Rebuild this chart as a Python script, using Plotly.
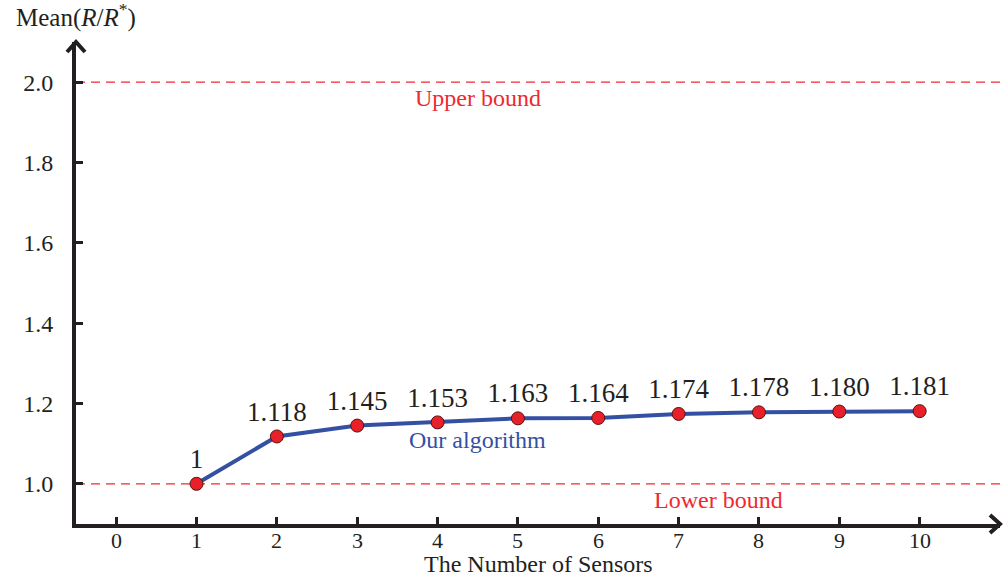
import plotly.graph_objects as go

sensors = [1, 2, 3, 4, 5, 6, 7, 8, 9, 10]
mean_ratio = [1.0, 1.118, 1.145, 1.153, 1.163, 1.164, 1.174, 1.178, 1.180, 1.181]
point_labels = ["1", "1.118", "1.145", "1.153", "1.163", "1.164", "1.174", "1.178", "1.180", "1.181"]
x_ticks = [0, 1, 2, 3, 4, 5, 6, 7, 8, 9, 10]
y_ticks = [1.0, 1.2, 1.4, 1.6, 1.8, 2.0]
upper_bound = 2.0
lower_bound = 1.0

FONT = "Liberation Serif"
AX = "#231f20"
RED = "#ee2a30"
BLUE = "#3350a3"

fig = go.Figure()
fig.add_trace(go.Scatter(
    x=sensors, y=mean_ratio, mode="lines+markers+text",
    text=point_labels, textposition="top center",
    textfont=dict(family=FONT, size=27, color="#231f20"),
    line=dict(color=BLUE, width=4),
    marker=dict(size=13, color="#e8202a", line=dict(color="#5a1010", width=1)),
    showlegend=False, cliponaxis=False,
))

for yb in (upper_bound, lower_bound):
    fig.add_shape(type="line", xref="x", yref="y", x0=-0.5, x1=11, y0=yb, y1=yb,
                  line=dict(color=RED, width=1.2, dash="9px,6px"), layer="below")

fig.add_annotation(x=4.5, y=1.96, text="Upper bound", showarrow=False,
                   font=dict(family=FONT, size=24, color=RED))
fig.add_annotation(x=7.5, y=0.96, text="Lower bound", showarrow=False,
                   font=dict(family=FONT, size=24, color=RED))
fig.add_annotation(x=4.5, y=1.109, text="Our algorithm", showarrow=False,
                   font=dict(family=FONT, size=24, color=BLUE))

# axis arrow heads (paper-referenced so they are not clipped)
fig.add_shape(type="path", xref="paper", yref="paper", xsizemode="pixel", ysizemode="pixel",
              xanchor=1, yanchor=0, path="M -10 -9 L 0 0 L -10 9",
              line=dict(color=AX, width=4))
fig.add_shape(type="path", xref="paper", yref="paper", xsizemode="pixel", ysizemode="pixel",
              xanchor=0, yanchor=1, path="M -9 -10 L 0 0 L 9 -10",
              line=dict(color=AX, width=4))

# x tick labels placed just under the axis
for xv in x_ticks:
    fig.add_annotation(x=xv, xref="x", yref="paper", y=0.0, yshift=-16, yanchor="middle",
                       text=str(xv), showarrow=False,
                       font=dict(family=FONT, size=22, color=AX))

fig.add_annotation(xref="paper", yref="paper", x=0.0, y=1.0, yshift=8, xanchor="center",
                   text="Mean(<i>R</i>/<i>R</i><sup>*</sup>)", showarrow=False,
                   font=dict(family=FONT, size=25, color=AX), yanchor="bottom")
fig.add_annotation(xref="paper", yref="paper", x=0.5, y=0.0, yshift=-40, yanchor="middle",
                   text="The Number of Sensors", showarrow=False,
                   font=dict(family=FONT, size=24, color=AX))

fig.update_xaxes(range=[-0.5, 11], tickvals=x_ticks, ticks="inside", ticklen=7, tickwidth=3,
                 tickcolor=AX, showline=True, linewidth=4, linecolor=AX, showgrid=False,
                 zeroline=False, automargin=False, showticklabels=False)
fig.update_yaxes(range=[0.9, 2.1], tickvals=y_ticks, tickformat=".1f", ticks="inside",
                 ticklen=7, tickwidth=3, tickcolor=AX, showline=True, linewidth=4,
                 linecolor=AX, showgrid=False, zeroline=False, automargin=False,
                 ticklabelstandoff=14,
                 tickfont=dict(family=FONT, size=24, color=AX))

fig.update_layout(width=1008, height=577, margin=dict(l=76, r=8, t=42, b=53),
                  plot_bgcolor="white", paper_bgcolor="white")

fig.write_html("out.html")
